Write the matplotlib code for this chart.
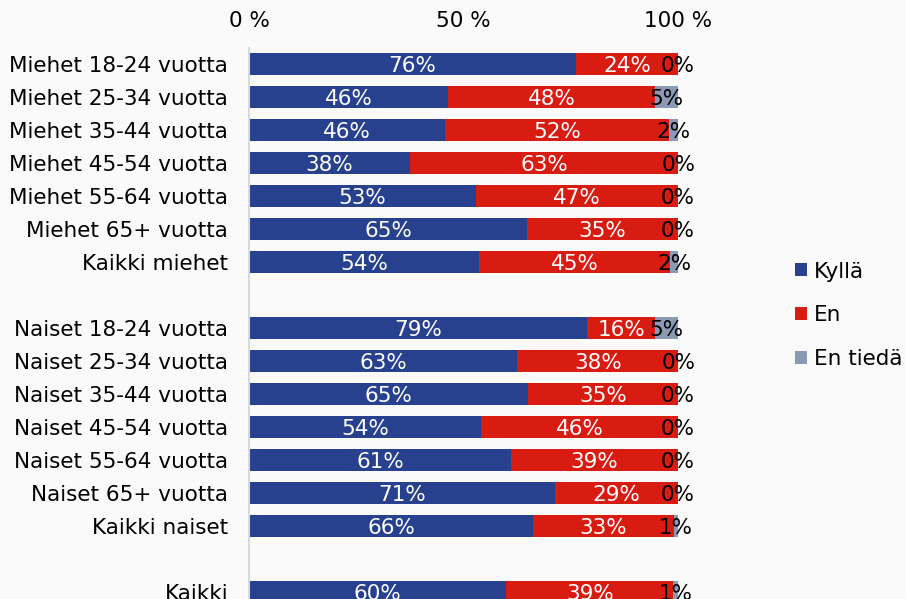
import matplotlib
matplotlib.use("Agg")
import matplotlib.pyplot as plt
import numpy as np

categories = ["Miehet 18-24 vuotta", "Miehet 25-34 vuotta", "Miehet 35-44 vuotta",
              "Miehet 45-54 vuotta", "Miehet 55-64 vuotta", "Miehet 65+ vuotta",
              "Kaikki miehet", "",
              "Naiset 18-24 vuotta", "Naiset 25-34 vuotta", "Naiset 35-44 vuotta",
              "Naiset 45-54 vuotta", "Naiset 55-64 vuotta", "Naiset 65+ vuotta",
              "Kaikki naiset", "",
              "Kaikki"]
kylla = [76.2, 46.4, 45.7, 37.6, 52.9, 64.8, 53.6, None,
         78.8, 62.55, 65.0, 54.1, 61.1, 71.3, 66.2, None, 60.0]
en = [23.8, 48.3, 52.2, 62.6, 47.1, 35.2, 44.6, None,
      15.9, 37.55, 35.0, 45.9, 38.9, 28.7, 32.9, None, 38.9]
en_tieda = [0.0, 5.3, 2.1, 0.0, 0.0, 0.0, 1.8, None,
            5.3, 0.0, 0.0, 0.0, 0.0, 0.0, 0.9, None, 1.1]
series_names = ["Kyllä", "En", "En tiedä"]
colors = ["#27418f", "#d91c11", "#8a9ab5"]
text_colors = ["white", "white", "black"]

fs = 15.5
plt.rcParams['font.family'] = ['DejaVu Sans']
fig = plt.figure(figsize=(9.06, 5.99), dpi=100, facecolor="#fafafa")
ax = fig.add_axes([0.2748, 0.0, 0.4735, 0.9199], facecolor="#fafafa")

rows = [i for i, v in enumerate(kylla) if v is not None]
left = np.zeros(len(rows))
for name, vals, col, tcol in zip(series_names, [kylla, en, en_tieda], colors, text_colors):
    w = np.array([vals[i] for i in rows])
    ax.barh(rows, w, left=left, height=0.67, color=col, label=name)
    for r, l, v in zip(rows, left, w):
        ax.text(l + v / 2, r, f"{v:.0f}%", ha="center", va="center_baseline",
                color=tcol, fontsize=fs)
    left = left + w

ax.set_xlim(0, 100)
ax.set_ylim(16.21, -0.485)
ax.set_yticks(range(len(categories)))
ax.set_yticklabels(categories, fontsize=fs)
ax.set_xticks([0, 50, 100])
ax.set_xticklabels(["0 %", "50 %", "100 %"], fontsize=fs)
ax.xaxis.tick_top()
ax.tick_params(axis="both", length=0)
ax.tick_params(axis="x", pad=12)
ax.tick_params(axis="y", pad=15)
for s in ["top", "right", "bottom"]:
    ax.spines[s].set_visible(False)
ax.spines["left"].set_color("#d9d9d9")
ax.spines["left"].set_linewidth(1.5)

ax.legend(loc="center left", bbox_to_anchor=(1.252, 0.515), frameon=False,
          fontsize=fs, handlelength=0.55, handleheight=0.55, handletextpad=0.35,
          labelspacing=1.1, borderaxespad=0)

fig.savefig("out.png", dpi=100, facecolor=fig.get_facecolor())
